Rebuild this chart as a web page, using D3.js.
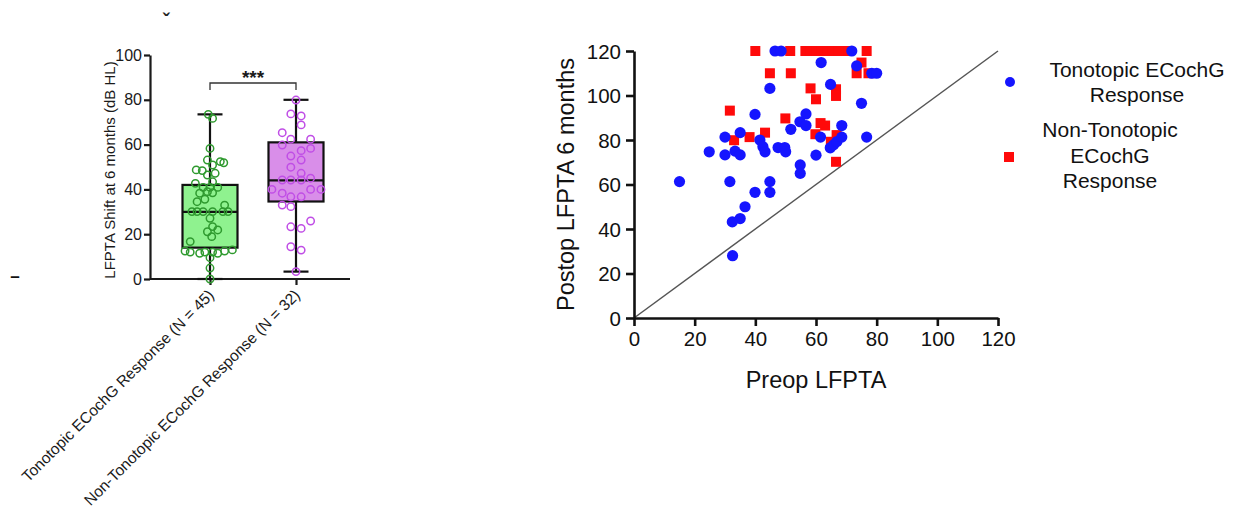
<!DOCTYPE html>
<html><head><meta charset="utf-8">
<script src="https://cdn.jsdelivr.net/npm/d3@7/dist/d3.min.js"></script>
<style>
html,body{margin:0;padding:0;background:#fff;}
svg{display:block;font-family:"Liberation Sans",Arial,Helvetica,sans-serif;}
</style></head>
<body>
<svg id="chart" width="1241" height="508"></svg>
<script>
// ---------- DATA ----------
const boxCategories = ["Tonotopic ECochG Response (N = 45)", "Non-Tonotopic ECochG Response (N = 32)"];
const boxYTicks = [0, 20, 40, 60, 80, 100];
const boxMin = [0, 3.3];
const boxQ1 = [14, 34.6];
const boxMedian = [30, 44];
const boxQ3 = [42, 61];
const boxMax = [73.5, 80];
const sigLabel = "***";
const sigLevel = 87.5;

const tonoShift = [73.5,71.7,58.3,53.1,50.9,52.4,51.9,48.7,48.4,46.4,47.2,42.7,43.4,40.9,40.9,40.9,38.3,39,38.5,35.6,34.5,33,30.1,30.1,30.1,30.1,30.1,30.1,27.1,23.4,21.1,21.9,18.9,16.7,12.5,12,11.5,12,12,11.5,12.5,13,9.5,4.9,0];
const tonoJitter = [-0.02,0.03,0,-0.03,0.03,0.12,0.16,-0.16,-0.09,-0.03,0.06,-0.17,0.03,-0.08,0,0.09,-0.12,-0.03,0.03,-0.06,-0.15,0.17,-0.21,-0.15,-0.08,0.03,0.15,0.21,0,0.03,-0.03,0.09,0.02,-0.23,-0.29,-0.23,-0.12,-0.06,0.03,0.09,0.17,0.26,0,0,0];
const nonTonoShift = [79.9,73.7,72.8,68.8,65.3,62.4,62.4,59.8,58.3,57.3,54.9,53.1,49.9,47.2,45,44.2,44.2,40,40,40,38.3,36.7,36.7,33,32.3,25.9,23.3,22.6,14.4,12.9,3.3,44.2];
const nonTonoJitter = [0,-0.06,0.06,0.06,-0.16,-0.06,0.17,-0.16,0.17,0.06,-0.06,0.06,-0.06,0.06,0.17,-0.06,0.06,-0.28,0.17,0.29,-0.16,-0.06,0.06,-0.16,-0.06,0.17,-0.06,0.06,-0.06,0.06,0,-0.16];

const scatterTicks = [0, 20, 40, 60, 80, 100, 120];
const tonoPreop  = [15,31.6,24.8,30,30,33.3,35,35,39.9,41.5,42.5,43.2,39.9,44.8,44.8,36.6,35,32.4,32.5,44.8,46.5,48.5,47.5,49.7,50,51.7,54.7,56.7,56.7,54.8,54.8,60,61.7,61.5,64.8,64.7,65.8,66.9,68.5,68.5,71.8,73.4,75,76.7,78.4,80];
const tonoPostop = [61.3,61.3,74.7,81.3,73.3,75,73.3,83.3,91.5,80,77,74.7,56.5,61.3,56.5,50,44.7,43.2,28,103.2,120,120,76.6,76.6,74.7,84.8,88.2,91.7,86.5,68.8,65,73.2,114.8,81.3,105,76.5,77.8,79.3,86.5,81.3,120,113.3,96.5,81.3,110,110];
const nonTonoPreop  = [40,51.5,56.5,58.3,60.1,61.9,63.7,65.5,67.3,69.1,70.6,76.7,75,73.4,77.3,44.8,51.7,58.2,60,66.6,66.6,31.6,49.9,43.2,38.1,33,61.5,63,59.8,64.9,66.8,66.6];
const nonTonoPostop = [120,120,120,120,120,120,120,120,120,120,120,120,114.8,110,110,110,110,103.2,98.3,102.8,99.8,93.2,89.7,83.3,81.3,79.9,87.6,86.5,82.6,79.2,82.2,70.2];
const legendLabels = [["Tonotopic ECochG", "Response"], ["Non-Tonotopic", "ECochG", "Response"]];

// ---------- STYLE ----------
const greenFill = "#8ff28f", greenStroke = "#2f9a2f";
const purpleFill = "#d98ee9", purpleStroke = "#c04ee6";
const blue = "#1515ff", red = "#ff0a0a";

const svg = d3.select("#chart");

// ---------- BOX PLOT ----------
const by = d3.scaleLinear().domain([0, 100]).range([279, 55]);
const bx = d3.scalePoint().domain(boxCategories).range([210, 296]);
const step = bx(boxCategories[1]) - bx(boxCategories[0]);
const boxW = 55, capW = 25;

const gB = svg.append("g");
const yAxB = gB.append("g").attr("transform", "translate(150,0)")
  .call(d3.axisLeft(by).tickValues(boxYTicks).tickSize(6).tickSizeOuter(0).tickPadding(2));
yAxB.select(".domain").attr("stroke-width", 2.2).attr("stroke", "#1a1a1a");
yAxB.selectAll(".tick line").attr("stroke-width", 2.2).attr("stroke", "#1a1a1a");
yAxB.selectAll("text").attr("font-size", 16).attr("font-family", "Liberation Sans, Arial, sans-serif").attr("fill", "#1a1a1a");
gB.append("line").attr("x1", 150).attr("x2", 350).attr("y1", by(0)).attr("y2", by(0)).attr("stroke", "#1a1a1a").attr("stroke-width", 2.2);
const xAxB = gB.append("g").attr("transform", `translate(0,${by(0)})`)
  .call(d3.axisBottom(bx).tickSize(6).tickFormat(""));
xAxB.select(".domain").remove();
xAxB.selectAll(".tick line").attr("stroke-width", 2.2).attr("stroke", "#1a1a1a");

boxCategories.forEach((c) => {
  gB.append("text").attr("transform", `translate(${bx(c) + 5},${by(0) + 17}) rotate(-45)`)
    .attr("text-anchor", "end").attr("font-size", 15.5).attr("fill", "#1a1a1a").text(c);
});
gB.append("text").attr("transform", `translate(115,${(by(0) + by(100)) / 2 + 3}) rotate(-90)`)
  .attr("text-anchor", "middle").attr("font-size", 15).attr("fill", "#1a1a1a").text("LFPTA Shift at 6 months (dB HL)");

const fills = [greenFill, purpleFill];
const strokes = [greenStroke, purpleStroke];
boxCategories.forEach((c, i) => {
  const cx = bx(c);
  const g = gB.append("g");
  g.append("line").attr("x1", cx).attr("x2", cx).attr("y1", by(boxMin[i])).attr("y2", by(boxMax[i])).attr("stroke", "#111").attr("stroke-width", 2.2);
  g.append("rect").attr("x", cx - boxW / 2).attr("width", boxW).attr("y", by(boxQ3[i])).attr("height", by(boxQ1[i]) - by(boxQ3[i]))
    .attr("fill", fills[i]).attr("stroke", "#111").attr("stroke-width", 2.2);
  g.append("line").attr("x1", cx - boxW / 2).attr("x2", cx + boxW / 2).attr("y1", by(boxMedian[i])).attr("y2", by(boxMedian[i])).attr("stroke", "#111").attr("stroke-width", 2.2);
  [boxMin[i], boxMax[i]].forEach(v => {
    g.append("line").attr("x1", cx - capW / 2).attr("x2", cx + capW / 2).attr("y1", by(v)).attr("y2", by(v)).attr("stroke", "#111").attr("stroke-width", 2.2);
  });
});
const groups = [[tonoShift, tonoJitter], [nonTonoShift, nonTonoJitter]];
groups.forEach(([vals, jit], i) => {
  const cx = bx(boxCategories[i]);
  gB.append("g").selectAll("circle").data(vals).join("circle")
    .attr("cx", (d, k) => cx + jit[k] * step)
    .attr("cy", d => by(d))
    .attr("r", 3.7).attr("fill", "none").attr("stroke", strokes[i]).attr("stroke-width", 1.5);
});
const x0 = bx(boxCategories[0]), x1 = bx(boxCategories[1]);
gB.append("path").attr("d", `M${x0},${by(sigLevel) + 7}V${by(sigLevel)}H${x1}V${by(sigLevel) + 7}`)
  .attr("fill", "none").attr("stroke", "#333").attr("stroke-width", 1.3);
gB.append("text").attr("x", (x0 + x1) / 2).attr("y", by(sigLevel) + 1).attr("text-anchor", "middle")
  .attr("font-size", 19).attr("font-weight", "bold").attr("fill", "#1a1a1a").text(sigLabel);

// stray marks from the source figure
svg.append("text").attr("x", 166).attr("y", 28).attr("text-anchor", "middle").attr("font-size", 20).attr("font-weight", "bold").attr("fill", "#222").text("ˇ");
svg.append("text").attr("x", 15).attr("y", 282).attr("text-anchor", "middle").attr("font-size", 17).attr("font-weight", "bold").attr("fill", "#111").text("–");

// ---------- SCATTER ----------
const sx = d3.scaleLinear().domain([0, 120]).range([634, 998]);
const sy = d3.scaleLinear().domain([0, 120]).range([318, 51]);
const gS = svg.append("g");

gS.append("line").attr("x1", sx(0)).attr("y1", sy(0)).attr("x2", sx(120)).attr("y2", sy(120))
  .attr("stroke", "#555").attr("stroke-width", 1.5);

const xAxS = gS.append("g").attr("transform", `translate(0,${sy(0)})`)
  .call(d3.axisBottom(sx).tickValues(scatterTicks).tickSize(8).tickSizeOuter(0).tickPadding(5));
const yAxS = gS.append("g").attr("transform", `translate(${sx(0)},0)`)
  .call(d3.axisLeft(sy).tickValues(scatterTicks).tickSize(8).tickSizeOuter(0).tickPadding(5));
[xAxS, yAxS].forEach(a => {
  a.select(".domain").attr("stroke-width", 2.6).attr("stroke", "#111");
  a.selectAll(".tick line").attr("stroke-width", 2.6).attr("stroke", "#111");
  a.selectAll("text").attr("font-size", 20.5).attr("font-family", "Liberation Sans, Arial, sans-serif").attr("fill", "#111");
});
yAxS.selectAll("text").attr("dy", "0.36em");

gS.append("text").attr("x", (sx(0) + sx(120)) / 2).attr("y", 388).attr("text-anchor", "middle")
  .attr("font-size", 23.5).attr("fill", "#111").text("Preop LFPTA");
gS.append("text").attr("transform", `translate(574,${(sy(0) + sy(120)) / 2}) rotate(-90)`).attr("text-anchor", "middle")
  .attr("font-size", 23.5).attr("fill", "#111").text("Postop LFPTA 6 months");

const sq = 10;
gS.append("g").selectAll("rect").data(nonTonoPreop).join("rect")
  .attr("x", (d) => sx(d) - sq / 2).attr("y", (d, k) => sy(nonTonoPostop[k]) - sq / 2)
  .attr("width", sq).attr("height", sq).attr("fill", red);
gS.append("g").selectAll("circle").data(tonoPreop).join("circle")
  .attr("cx", d => sx(d)).attr("cy", (d, k) => sy(tonoPostop[k])).attr("r", 5.6).attr("fill", blue);

const leg = gS.append("g");
leg.append("circle").attr("cx", 1010).attr("cy", 82).attr("r", 5).attr("fill", blue);
leg.append("rect").attr("x", 1004).attr("y", 152).attr("width", 10).attr("height", 10).attr("fill", red);
const legCenters = [1137, 1110];
const legBaselines = [[77, 102], [137, 163, 188]];
legendLabels.forEach((lines, i) => {
  lines.forEach((t, j) => {
    leg.append("text").attr("x", legCenters[i]).attr("y", legBaselines[i][j]).attr("text-anchor", "middle")
      .attr("font-size", 21).attr("fill", "#111").text(t);
  });
});
</script>
</body></html>
